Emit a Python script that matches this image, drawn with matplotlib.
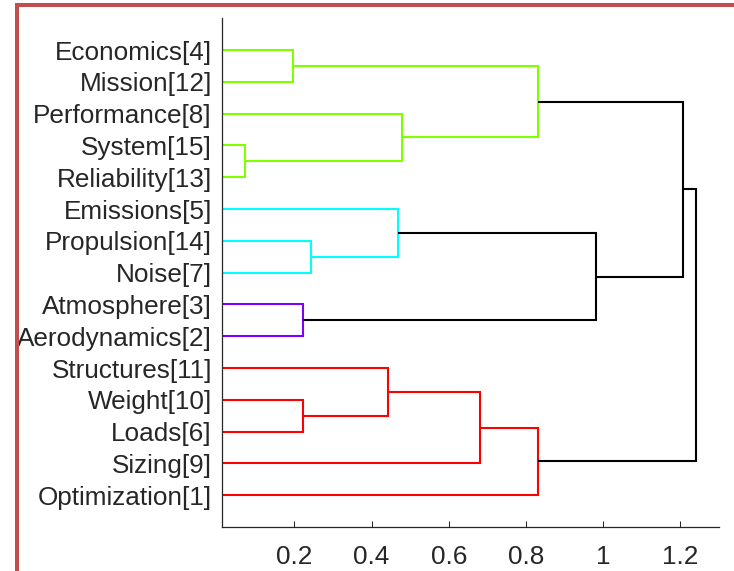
import matplotlib
matplotlib.use("Agg")
import matplotlib.pyplot as plt
from matplotlib.lines import Line2D

# ---- data ----
leaf_labels = ['Economics[4]', 'Mission[12]', 'Performance[8]', 'System[15]',
               'Reliability[13]', 'Emissions[5]', 'Propulsion[14]', 'Noise[7]',
               'Atmosphere[3]', 'Aerodynamics[2]', 'Structures[11]', 'Weight[10]',
               'Loads[6]', 'Sizing[9]', 'Optimization[1]']
leaf_groups = [0, 0, 0, 0, 0, 1, 1, 1, 2, 2, 3, 3, 3, 3, 3]
group_colors = ['#80FF00', '#00FFFF', '#8000FF', '#FF0000']

# linkage: node ids 0..14 are leaves (display order), 15+k is merge k
merge_a = [0, 3, 2, 15, 6, 5, 8, 20, 18, 11, 10, 13, 14, 23]
merge_b = [1, 4, 16, 17, 7, 19, 9, 21, 22, 12, 24, 25, 26, 27]
merge_h = [0.1953, 0.0720, 0.4777, 0.8305, 0.2421, 0.4698, 0.2220, 0.9831,
           1.2083, 0.2220, 0.4431, 0.6804, 0.8323, 1.2421]

xtick_vals = [0.2, 0.4, 0.6, 0.8, 1.0, 1.2]
xtick_labels = ['0.2', '0.4', '0.6', '0.8', '1', '1.2']

# ---- figure ----
plt.rcParams['font.family'] = ['Liberation Sans', 'DejaVu Sans']
W, H = 734, 571
fig = plt.figure(figsize=(W / 100, H / 100), dpi=100)
fig.patch.set_facecolor('white')

ax_l, ax_r, ax_t, ax_b = 222.4, 719.0, 18.2, 527.1
ax = fig.add_axes([ax_l / W, (H - ax_b) / H, (ax_r - ax_l) / W, (ax_b - ax_t) / H])

n = len(leaf_labels)
pos = {i: i + 1 for i in range(n)}
hgt = {i: 0.0 for i in range(n)}
leaves = {i: {i} for i in range(n)}

for k, (a, b, h) in enumerate(zip(merge_a, merge_b, merge_h)):
    node = n + k
    pos[node] = (pos[a] + pos[b]) / 2
    hgt[node] = h
    leaves[node] = leaves[a] | leaves[b]
    grps = {leaf_groups[i] for i in leaves[node]}
    col = group_colors[grps.pop()] if len(grps) == 1 else 'black'
    ax.plot([hgt[a], h, h, hgt[b]], [pos[a], pos[a], pos[b], pos[b]],
            color=col, lw=1.5, solid_joinstyle='miter', solid_capstyle='butt')

span = max(merge_h) - min(merge_h)
ax.set_xlim(min(merge_h) - 0.05 * span, max(merge_h) + 0.05 * span)
ax.set_ylim(n + 1, 0)

ax.set_yticks(range(1, n + 1))
ax.set_yticklabels(leaf_labels)
ax.set_xticks(xtick_vals)
ax.set_xticklabels(xtick_labels)

txt_col = '#262626'
ax.tick_params(axis='y', length=0, pad=7.5, labelsize=18.8, labelcolor=txt_col)
ax.tick_params(axis='x', direction='in', length=4.2, width=0.75, color=txt_col,
               pad=13, labelsize=18.8, labelcolor=txt_col)
for s in ['top', 'right']:
    ax.spines[s].set_visible(False)
for s in ['left', 'bottom']:
    ax.spines[s].set_color(txt_col)
    ax.spines[s].set_linewidth(0.9)

# decorative border (cropped frame)
bx = 16.5 / W
by = (H - 5.3) / H
fig.add_artist(Line2D([bx, bx, 1.01], [-0.01, by, by], transform=fig.transFigure,
                      color='#C0504D', lw=2.9, solid_joinstyle='miter'))

fig.savefig('out.png', dpi=100, facecolor='white')
